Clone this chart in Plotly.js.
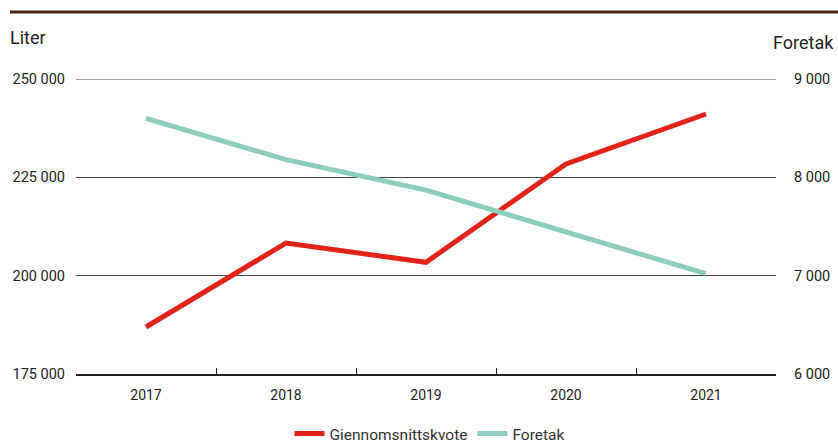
<!DOCTYPE html>
<html>
<head>
<meta charset="utf-8">
<script src="https://cdn.plot.ly/plotly-3.0.1.min.js"></script>
<style>html,body{margin:0;padding:0;background:#fff}#chart{width:838px;height:445px}</style>
</head>
<body>
<div id="chart"></div>
<script>
var years = ["2017", "2018", "2019", "2020", "2021"];
var gjennomsnittskvote = [186950, 208300, 203400, 228400, 241100];
var foretak = [8600, 8180, 7870, 7450, 7020];
var seriesNames = ["Giennomsnittskvote", "Foretak"];
var leftTicks = [175000, 200000, 225000, 250000];
var rightTicks = [6000, 7000, 8000, 9000];

var FONT = "Roboto, 'Liberation Sans', sans-serif";
var W = 838, H = 445, L = 76, R = 62, T = 79, B = 71;
var pw = W - L - R, ph = H - T - B;
function px(x) { return (x - L) / pw; }
function py(y) { return (H - B - y) / ph; }

var traces = [
  {x: years, y: gjennomsnittskvote, name: seriesNames[0], type: "scatter", mode: "lines",
   line: {color: "#e2231a", width: 5}, yaxis: "y"},
  {x: years, y: foretak, name: seriesNames[1], type: "scatter", mode: "lines",
   line: {color: "#8dcdbe", width: 5}, yaxis: "y2"}
];

var layout = {
  width: W, height: H,
  margin: {l: L, r: R, t: T, b: B, pad: 0, autoexpand: false},
  paper_bgcolor: "#fff", plot_bgcolor: "#fff",
  separators: ", ",
  font: {family: FONT, size: 14, color: "#222"},
  showlegend: true,
  legend: {orientation: "h", xref: "container", yref: "container",
           x: 430 / W, xanchor: "center", y: (H - 434) / H, yanchor: "middle",
           font: {family: FONT, size: 15.5, color: "#333"}, itemwidth: 30, traceorder: "normal",
           bgcolor: "rgba(0,0,0,0)"},
  xaxis: {type: "category", range: [-0.5, 4.5], showgrid: false, zeroline: false,
          showline: true, linecolor: "#222", linewidth: 1.5,
          ticks: "inside", tickson: "boundaries", ticklen: 6, tickcolor: "#222", tickwidth: 1,
          tickfont: {family: FONT, size: 14, color: "#222"}, ticklabelstandoff: 8,
          fixedrange: true},
  yaxis: {range: [175000, 250000], tickvals: leftTicks, tickformat: ",d",
          showgrid: true, gridcolor: "#444", gridwidth: 1, zeroline: false, showline: false,
          ticks: "", tickfont: {family: FONT, size: 14.5, color: "#222"}, ticklabelstandoff: 10,
          fixedrange: true},
  yaxis2: {range: [6000, 9000], tickvals: rightTicks, tickformat: ",d", overlaying: "y", side: "right",
           showgrid: false, zeroline: false, showline: false, ticks: "",
           tickfont: {family: FONT, size: 14.5, color: "#222"}, ticklabelstandoff: 17,
           fixedrange: true},
  shapes: [
    {type: "line", xref: "paper", yref: "paper", x0: px(10), x1: px(838), y0: py(12), y1: py(12),
     line: {color: "#4b2a17", width: 3}},
    {type: "line", xref: "paper", yref: "y", x0: 0, x1: 1, y0: leftTicks[3], y1: leftTicks[3],
     line: {color: "#444", width: 1}, layer: "below"}
  ],
  annotations: [
    {xref: "paper", yref: "paper", x: px(8), y: py(38), xanchor: "left", yanchor: "middle",
     text: "Liter", showarrow: false, font: {family: FONT, size: 18, color: "#222"}},
    {xref: "paper", yref: "paper", x: px(836), y: py(43), xanchor: "right", yanchor: "middle",
     text: "Foretak", showarrow: false, font: {family: FONT, size: 18, color: "#222"}}
  ]
};

Plotly.newPlot("chart", traces, layout, {displayModeBar: false, staticPlot: true});
</script>
</body>
</html>
